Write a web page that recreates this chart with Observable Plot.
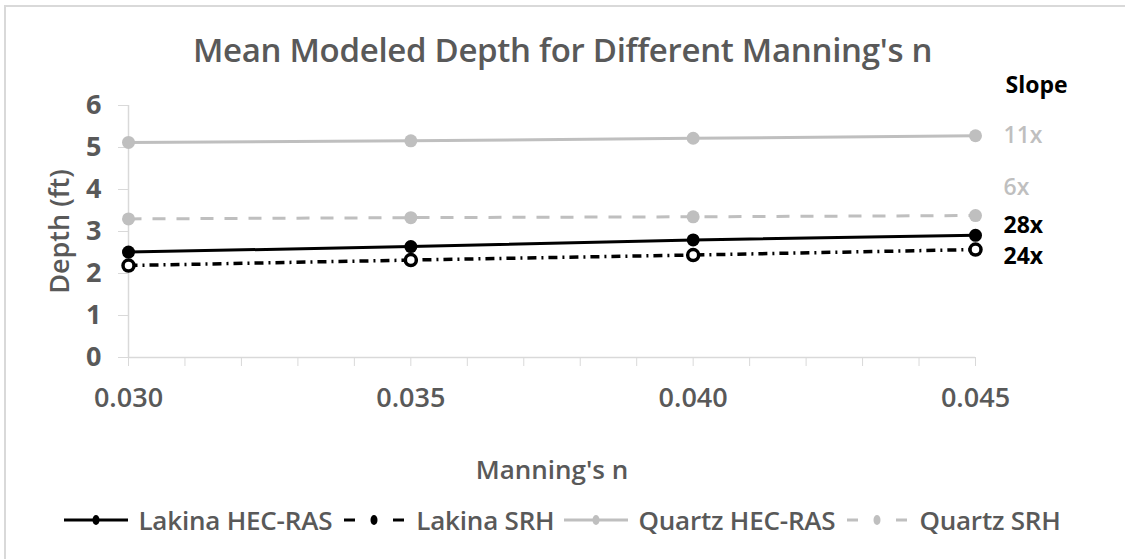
<!DOCTYPE html>
<html>
<head>
<meta charset="utf-8">
<script src="https://cdn.jsdelivr.net/npm/d3@7"></script>
<script src="https://cdn.jsdelivr.net/npm/@observablehq/plot@0.6"></script>
<style>
  html, body { margin: 0; padding: 0; background: #fff; }
  body { width: 1125px; height: 559px; overflow: hidden; position: relative; font-family: "Open Sans", sans-serif; }
  #frame { position: absolute; left: 4px; top: 5px; width: 1130px; height: 570px; border: 2px solid #d9d9d9; box-sizing: border-box; }
  #title { position: relative; height: 80px; box-sizing: border-box; padding-top: 24px; line-height: 52px; text-align: center; font-size: 33px; font-weight: 600; color: #595959; letter-spacing: -0.3px; }
  #chart { position: relative; height: 410px; }
  #legend { position: relative; height: 60px; display: flex; align-items: center; justify-content: center; gap: 0; font-size: 26px; color: #595959; font-weight: 600; letter-spacing: -0.2px; }
  .item { display: flex; align-items: center; margin: 0 5px; }
  .item svg { margin-right: 10px; }
</style>
</head>
<body>
<div id="frame"></div>
<div id="title">Mean Modeled Depth for Different Manning's n</div>
<div id="chart"></div>
<div id="legend"></div>
<script>
// ---- data ----
const manningN = [0.030, 0.035, 0.040, 0.045];
const lakinaHecRas = [2.51, 2.64, 2.80, 2.91];
const lakinaSrh = [2.19, 2.32, 2.44, 2.57];
const quartzHecRas = [5.12, 5.16, 5.22, 5.28];
const quartzSrh = [3.30, 3.33, 3.35, 3.38];
const seriesNames = ["Lakina HEC-RAS", "Lakina SRH", "Quartz HEC-RAS", "Quartz SRH"];
const slopeLabels = ["28x", "24x", "11x", "6x"];
const slopeTitle = "Slope";
const xTickLabels = [0.030, 0.035, 0.040, 0.045];
const xMinorTicks = [0.030, 0.031, 0.032, 0.033, 0.034, 0.035, 0.036, 0.037, 0.038, 0.039, 0.040, 0.041, 0.042, 0.043, 0.044, 0.045];
const yTicks = [0, 1, 2, 3, 4, 5, 6];
const xTitle = "Manning's n";
const yTitle = "Depth (ft)";

// ---- styles (not data) ----
const styles = {
  "Lakina HEC-RAS": {stroke: "#000", dash: null, width: 3, fill: "#000", dotStroke: "#000", labelColor: "#000", labelDy: -10, labelWeight: 700},
  "Lakina SRH": {stroke: "#000", dash: "9,5,2,5", width: 3.5, fill: "#fff", dotStroke: "#000", labelColor: "#000", labelDy: 7, labelWeight: 700},
  "Quartz HEC-RAS": {stroke: "#bfbfbf", dash: null, width: 3, fill: "#bfbfbf", dotStroke: "#bfbfbf", labelColor: "#bfbfbf", labelDy: 0, labelWeight: 600},
  "Quartz SRH": {stroke: "#bfbfbf", dash: "13,11", width: 3, fill: "#bfbfbf", dotStroke: "#bfbfbf", labelColor: "#bfbfbf", labelDy: -28, labelWeight: 600}
};

const seriesValues = [lakinaHecRas, lakinaSrh, quartzHecRas, quartzSrh];
const rows = seriesNames.flatMap((s, i) => manningN.map((n, j) => ({series: s, n, depth: seriesValues[i][j]})));
const lastRows = seriesNames.map((s, i) => ({series: s, n: manningN[manningN.length - 1], depth: seriesValues[i][manningN.length - 1], label: slopeLabels[i]}));

const lineMarks = [];
const dotMarks = [];
const labelMarks = [];
// draw order: Quartz first, then Lakina on top
[2, 3, 0, 1].forEach(i => {
  const s = seriesNames[i];
  const st = styles[s];
  const data = rows.filter(d => d.series === s);
  lineMarks.push(Plot.line(data, {x: "n", y: "depth", stroke: st.stroke, strokeWidth: st.width, strokeDasharray: st.dash, strokeLinecap: "butt"}));
  dotMarks.push(Plot.dot(data, {x: "n", y: "depth", r: s === "Lakina SRH" ? 5.5 : 6.5, fill: st.fill, stroke: st.dotStroke, strokeWidth: s === "Lakina SRH" ? 3.5 : 0}));
  labelMarks.push(Plot.text(lastRows.filter(d => d.series === s), {x: "n", y: "depth", text: "label", textAnchor: "start", dx: 28, dy: st.labelDy, fill: st.labelColor, fontSize: 23, fontWeight: st.labelWeight}));
});

const chart = Plot.plot({
  width: 1125,
  height: 410,
  marginTop: 25,
  marginLeft: 128,
  marginRight: 150,
  marginBottom: 133,
  style: {fontFamily: "Open Sans, sans-serif", background: "transparent", overflow: "visible"},
  x: {domain: [0.030, 0.045]},
  y: {domain: [0, 6]},
  marks: [
    Plot.ruleX([0.030], {stroke: "#d9d9d9", strokeWidth: 1.5}),
    Plot.ruleY([0], {stroke: "#d9d9d9", strokeWidth: 1.5}),
    Plot.axisY({ticks: yTicks, tickSize: 10, tickPadding: 17, stroke: "#d9d9d9", fill: "#595959", fontSize: 27, fontWeight: 700, label: null, tickFormat: d => String(d)}),
    Plot.axisX({ticks: xMinorTicks, tickSize: 9, stroke: "#d9d9d9", tickFormat: null, text: null, label: null}),
    Plot.axisX({ticks: xTickLabels, tickSize: 0, tickPadding: 30, fill: "#595959", fontSize: 27, fontWeight: 600, label: null, tickFormat: d3.format(".3f")}),
    Plot.text([xTitle], {frameAnchor: "bottom", lineAnchor: "middle", dy: 113, fill: "#595959", fontSize: 26, fontWeight: 600}),
    Plot.text([yTitle], {frameAnchor: "left", textAnchor: "middle", lineAnchor: "middle", rotate: -90, dx: -68, fill: "#595959", fontSize: 27, fontWeight: 600}),
    ...lineMarks,
    ...dotMarks,
    ...labelMarks,
    Plot.text([slopeTitle], {x: () => manningN[manningN.length - 1], y: () => yTicks[yTicks.length - 1], textAnchor: "start", dx: 30, dy: -20, fill: "#000", fontSize: 23, fontWeight: 700})
  ]
});
document.getElementById("chart").appendChild(chart);

// ---- legend ----
const legend = document.getElementById("legend");
seriesNames.forEach(s => {
  const st = styles[s];
  const item = document.createElement("div");
  item.className = "item";
  const svg = d3.create("svg").attr("width", 64).attr("height", 20);
  if (s === "Lakina SRH" || s === "Quartz SRH") {
    svg.append("line").attr("x1", 2).attr("x2", 13).attr("y1", 10).attr("y2", 10).attr("stroke", st.stroke).attr("stroke-width", 3);
    svg.append("line").attr("x1", 51).attr("x2", 62).attr("y1", 10).attr("y2", 10).attr("stroke", st.stroke).attr("stroke-width", 3);
  } else {
    svg.append("line").attr("x1", 0).attr("x2", 64).attr("y1", 10).attr("y2", 10).attr("stroke", st.stroke).attr("stroke-width", 3);
  }
  svg.append("ellipse").attr("cx", 32).attr("cy", 10).attr("rx", 3.5).attr("ry", 5).attr("fill", st.fill === "#fff" ? "#000" : st.fill);
  item.appendChild(svg.node());
  const span = document.createElement("span");
  span.textContent = s;
  item.appendChild(span);
  legend.appendChild(item);
});
</script>
</body>
</html>
